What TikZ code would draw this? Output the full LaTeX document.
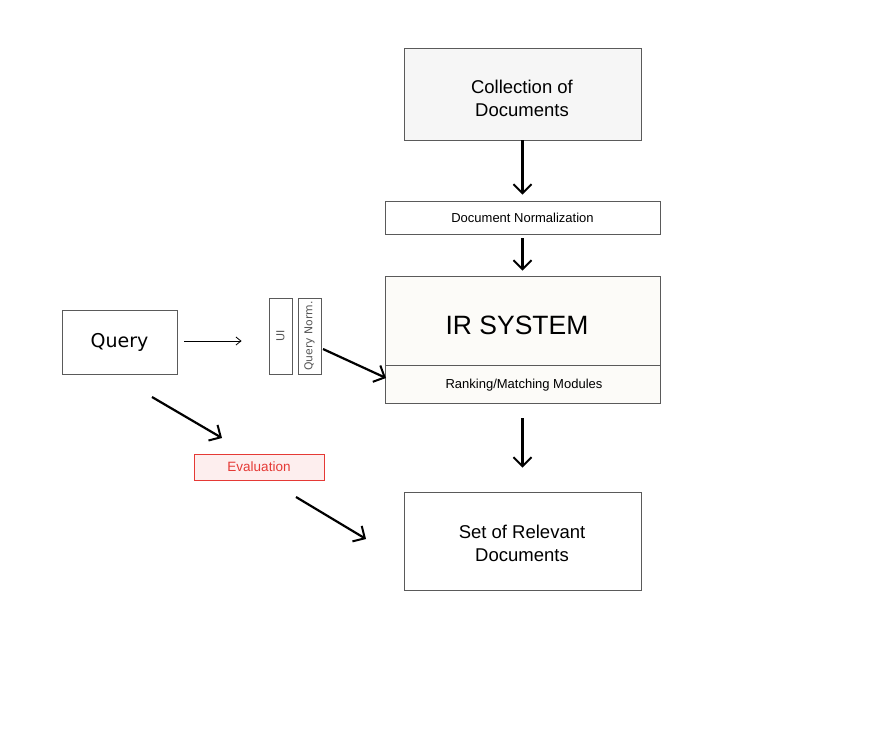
\documentclass[tikz,border=0pt]{standalone}
\usepackage{fontspec}
\setmainfont{Liberation Sans}
\newfontfamily\dvs{DejaVu Sans}
\usetikzlibrary{arrows.meta}
\definecolor{boxline}{HTML}{5A5A5A}
\definecolor{evred}{HTML}{E53935}
\definecolor{evfill}{HTML}{FDEEEE}
\definecolor{irfill}{HTML}{FCFBF8}
\definecolor{collfill}{HTML}{F6F6F6}
\definecolor{uitext}{HTML}{555555}
\tikzset{
  boxnode/.style={draw=boxline, line width=0.8pt, rectangle, inner sep=0pt, align=center},
  arr/.style={-{Straight Barb[length=9pt,width=18pt,line width=2pt]}, line width=2.2pt, black},
  thinarr/.style={-{Straight Barb[length=5pt,width=8pt]}, line width=0.8pt, black},
}
\begin{document}
\begin{tikzpicture}[x=1pt,y=-1pt]
\useasboundingbox[fill=white] (0,0) rectangle (894,732);
% nodes
\node[boxnode, fill=collfill, minimum width=237pt, minimum height=92pt] (coll) at (522.5,94) {};
\node[font=\fontsize{18.5}{23}\selectfont, align=center, inner sep=0pt] (colltext) at (522,98) {Collection of\\Documents};
\node[boxnode, fill=white, minimum width=275pt, minimum height=33pt, font=\fontsize{13}{15}\selectfont] (norm) at (522.5,217.5) {Document Normalization};
\node[boxnode, fill=irfill, minimum width=275pt, minimum height=89pt] (ir) at (522.5,320.5) {};
\node[font=\fontsize{26.5}{30}\selectfont, inner sep=0pt] (irtext) at (517,325) {IR SYSTEM};
\node[boxnode, fill=irfill, minimum width=275pt, minimum height=38pt] (rank) at (522.5,384) {};
\node[font=\fontsize{13}{15}\selectfont, inner sep=0pt] (ranktext) at (524,385.5) {Ranking/Matching Modules};
\node[boxnode, fill=white, minimum width=115pt, minimum height=64pt, font=\dvs\fontsize{19}{21}\selectfont] (query) at (119.5,342) {Query};
\node[boxnode, fill=white, minimum width=23pt, minimum height=76pt] (ui) at (280.5,336) {};
\node[rotate=90, text=uitext, font=\dvs\fontsize{11}{12}\selectfont, inner sep=0pt] (uitext) at (ui.center) {UI};
\node[boxnode, fill=white, minimum width=23pt, minimum height=76pt] (qn) at (309.5,336) {};
\node[rotate=90, text=uitext, font=\dvs\fontsize{10.8}{12}\selectfont, inner sep=0pt] (qntext) at (qn.center) {Query Norm.};
\node[draw=evred, fill=evfill, line width=0.8pt, rectangle, minimum width=130pt, minimum height=26pt, text=evred, font=\fontsize{13.5}{15}\selectfont, inner sep=0pt] (eval) at (259,467) {Evaluation};
\node[boxnode, fill=white, minimum width=237pt, minimum height=98pt] (set) at (522.5,541) {};
\node[font=\fontsize{18.5}{23}\selectfont, align=center, inner sep=0pt] (settext) at (522,543) {Set of Relevant\\Documents};
% coordinates for free arrow ends
\coordinate (qnout) at (323,349);
\coordinate (irin) at (386,378);
\coordinate (qa1) at (152,397);
\coordinate (qa2) at (222,438);
\coordinate (ea1) at (296,497);
\coordinate (ea2) at (366,539);
% connectors
\draw[arr, shorten >=6pt] (coll.south) -- (norm.north);
\draw[arr, shorten <=4pt, shorten >=5pt] (norm.south) -- (ir.north);
\draw[arr, shorten <=15pt, shorten >=24pt] (rank.south) -- (set.north);
\draw[thinarr, shorten <=7pt, shorten >=27pt] (query.east |- 0,341) -- (ui.west |- 0,341);
\draw[arr] (qnout) -- (irin);
\draw[arr] (qa1) -- (qa2);
\draw[arr] (ea1) -- (ea2);
\end{tikzpicture}
\end{document}
